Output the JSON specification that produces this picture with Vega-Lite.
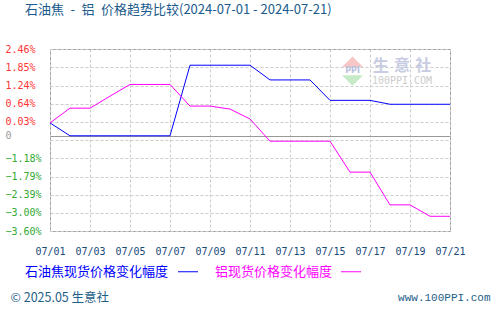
{
  "$schema": "https://vega.github.io/schema/vega-lite/v6.json",
  "width": 400,
  "height": 182,
  "autosize": {"type": "none"},
  "padding": {"left": 50, "top": 49, "right": 50, "bottom": 81},
  "background": "white",
  "title": {
    "text": "石油焦\u2002-\u2002铝\u2002价格趋势比较(2024-07-01 - 2024-07-21)",
    "anchor": "start",
    "frame": "group",
    "dx": -25,
    "offset": 21,
    "baseline": "middle",
    "font": "Noto Sans CJK SC",
    "fontSize": 13,
    "fontWeight": "normal",
    "color": "#1a5a8c"
  },
  "data": {
    "values": [
      {"date": "2024/07/01", "series": "石油焦现货价格变化幅度", "value": 0},
      {"date": "2024/07/02", "series": "石油焦现货价格变化幅度", "value": -0.43},
      {"date": "2024/07/03", "series": "石油焦现货价格变化幅度", "value": -0.43},
      {"date": "2024/07/04", "series": "石油焦现货价格变化幅度", "value": -0.43},
      {"date": "2024/07/05", "series": "石油焦现货价格变化幅度", "value": -0.43},
      {"date": "2024/07/06", "series": "石油焦现货价格变化幅度", "value": -0.43},
      {"date": "2024/07/07", "series": "石油焦现货价格变化幅度", "value": -0.43},
      {"date": "2024/07/08", "series": "石油焦现货价格变化幅度", "value": 1.92},
      {"date": "2024/07/09", "series": "石油焦现货价格变化幅度", "value": 1.92},
      {"date": "2024/07/10", "series": "石油焦现货价格变化幅度", "value": 1.92},
      {"date": "2024/07/11", "series": "石油焦现货价格变化幅度", "value": 1.92},
      {"date": "2024/07/12", "series": "石油焦现货价格变化幅度", "value": 1.43},
      {"date": "2024/07/13", "series": "石油焦现货价格变化幅度", "value": 1.43},
      {"date": "2024/07/14", "series": "石油焦现货价格变化幅度", "value": 1.43},
      {"date": "2024/07/15", "series": "石油焦现货价格变化幅度", "value": 0.75},
      {"date": "2024/07/16", "series": "石油焦现货价格变化幅度", "value": 0.75},
      {"date": "2024/07/17", "series": "石油焦现货价格变化幅度", "value": 0.75},
      {"date": "2024/07/18", "series": "石油焦现货价格变化幅度", "value": 0.62},
      {"date": "2024/07/19", "series": "石油焦现货价格变化幅度", "value": 0.62},
      {"date": "2024/07/20", "series": "石油焦现货价格变化幅度", "value": 0.62},
      {"date": "2024/07/21", "series": "石油焦现货价格变化幅度", "value": 0.62},
      {"date": "2024/07/01", "series": "铝现货价格变化幅度", "value": 0},
      {"date": "2024/07/02", "series": "铝现货价格变化幅度", "value": 0.49},
      {"date": "2024/07/03", "series": "铝现货价格变化幅度", "value": 0.49},
      {"date": "2024/07/04", "series": "铝现货价格变化幅度", "value": 0.89},
      {"date": "2024/07/05", "series": "铝现货价格变化幅度", "value": 1.28},
      {"date": "2024/07/06", "series": "铝现货价格变化幅度", "value": 1.28},
      {"date": "2024/07/07", "series": "铝现货价格变化幅度", "value": 1.28},
      {"date": "2024/07/08", "series": "铝现货价格变化幅度", "value": 0.56},
      {"date": "2024/07/09", "series": "铝现货价格变化幅度", "value": 0.56},
      {"date": "2024/07/10", "series": "铝现货价格变化幅度", "value": 0.46},
      {"date": "2024/07/11", "series": "铝现货价格变化幅度", "value": 0.13},
      {"date": "2024/07/12", "series": "铝现货价格变化幅度", "value": -0.61},
      {"date": "2024/07/13", "series": "铝现货价格变化幅度", "value": -0.61},
      {"date": "2024/07/14", "series": "铝现货价格变化幅度", "value": -0.61},
      {"date": "2024/07/15", "series": "铝现货价格变化幅度", "value": -0.61},
      {"date": "2024/07/16", "series": "铝现货价格变化幅度", "value": -1.64},
      {"date": "2024/07/17", "series": "铝现货价格变化幅度", "value": -1.64},
      {"date": "2024/07/18", "series": "铝现货价格变化幅度", "value": -2.73},
      {"date": "2024/07/19", "series": "铝现货价格变化幅度", "value": -2.73},
      {"date": "2024/07/20", "series": "铝现货价格变化幅度", "value": -3.11},
      {"date": "2024/07/21", "series": "铝现货价格变化幅度", "value": -3.11}
    ]
  },
  "layer": [
    {
      "mark": {"type": "line", "strokeWidth": 1, "clip": true},
      "encoding": {
        "x": {
          "field": "date",
          "type": "temporal",
          "scale": {"domain": [{"year": 2024, "month": 7, "date": 1}, {"year": 2024, "month": 7, "date": 21}]},
          "axis": {
            "values": [
              {"year": 2024, "month": 7, "date": 1},
              {"year": 2024, "month": 7, "date": 3},
              {"year": 2024, "month": 7, "date": 5},
              {"year": 2024, "month": 7, "date": 7},
              {"year": 2024, "month": 7, "date": 9},
              {"year": 2024, "month": 7, "date": 11},
              {"year": 2024, "month": 7, "date": 13},
              {"year": 2024, "month": 7, "date": 15},
              {"year": 2024, "month": 7, "date": 17},
              {"year": 2024, "month": 7, "date": 19},
              {"year": 2024, "month": 7, "date": 21}
            ],
            "tickCount": 100,
            "format": "%m/%d",
            "labelFont": "DejaVu Sans Mono",
            "labelFontSize": 10,
            "labelColor": "#1a4a7a",
            "labelPadding": 15,
            "labelFlush": false,
            "labelOverlap": false,
            "ticks": false,
            "tickSize": 0,
            "domain": false,
            "grid": true,
            "gridColor": "#cccccc",
            "gridDash": [3, 2],
            "title": "© 2025.05 生意社",
            "titleX": -40,
            "titleY": 66,
            "titleAlign": "left",
            "titleBaseline": "middle",
            "titleFont": "Noto Sans CJK SC",
            "titleFontSize": 12.5,
            "titleFontWeight": "normal",
            "titleColor": "#1e6088"
          }
        },
        "y": {
          "field": "value",
          "type": "quantitative",
          "scale": {"domain": [-3.6, 2.46], "nice": false, "zero": false},
          "axis": {
            "values": [2.46, 1.85, 1.24, 0.64, 0.03, -0.43, -0.57, -1.18, -1.79, -2.39, -3.0, -3.6],
            "tickCount": 100,
            "labelExpr": "datum.value == -0.43 ? '0' : (datum.value == -0.57 ? '' : format(datum.value, '.2f') + '%')",
            "labelAlign": "left",
            "labelPadding": 45,
            "labelBaseline": "middle",
            "labelFont": "DejaVu Sans Mono",
            "labelFontSize": 10,
            "labelOverlap": false,
            "labelColor": {
              "condition": [
                {"test": "datum.value == -0.43", "value": "#999999"},
                {"test": "datum.value > 0", "value": "#ff3333"}
              ],
              "value": "#33aa33"
            },
            "ticks": false,
            "tickSize": 0,
            "domain": false,
            "grid": true,
            "gridColor": {"condition": {"test": "datum.value == -0.43", "value": "#999999"}, "value": "#cccccc"},
            "gridDash": {"condition": {"test": "datum.value == -0.43", "value": []}, "value": [3, 2]},
            "title": "www.100PPI.com",
            "titleAngle": 0,
            "titleX": 440,
            "titleY": 248,
            "titleAlign": "right",
            "titleBaseline": "middle",
            "titleFont": "Liberation Mono",
            "titleFontSize": 11,
            "titleFontWeight": "normal",
            "titleColor": "#1e6088"
          }
        },
        "color": {
          "field": "series",
          "type": "nominal",
          "scale": {"domain": ["石油焦现货价格变化幅度", "铝现货价格变化幅度"], "range": ["#0000ff", "#ff00ff"]},
          "legend": {
            "orient": "none",
            "legendX": -25,
            "legendY": 212,
            "direction": "horizontal",
            "title": null,
            "padding": 0,
            "symbolType": "stroke",
            "symbolSize": 400,
            "symbolStrokeWidth": 1,
            "labelFont": "Noto Sans CJK SC",
            "labelFontSize": 13,
            "labelLimit": 400,
            "labelOffset": 0,
            "columnPadding": 15,
            "encode": {
              "symbols": {"update": {"x": {"signal": "datum.value === '石油焦现货价格变化幅度' ? 163 : 136"}}},
              "labels": {"update": {"x": {"value": 0}, "fill": {"signal": "datum.value === '石油焦现货价格变化幅度' ? '#0000ff' : '#ff00ff'"}}}
            }
          }
        }
      }
    },
    {
      "data": {"values": [{}]},
      "mark": {"type": "point", "shape": "M-1,0L0,-1L1,0Z", "filled": true, "size": 441, "color": "#f8c6c6", "opacity": 1},
      "encoding": {
        "x": {"datum": {"year": 2024, "month": 7, "date": 16, "hours": 3}, "type": "temporal"},
        "y": {"datum": 1.86, "type": "quantitative"}
      }
    },
    {
      "data": {"values": [{}]},
      "mark": {"type": "point", "shape": "M-1,0L0,1L1,0Z", "filled": true, "size": 441, "color": "#c6eac6", "opacity": 1},
      "encoding": {
        "x": {"datum": {"year": 2024, "month": 7, "date": 16, "hours": 3}, "type": "temporal"},
        "y": {"datum": 1.59, "type": "quantitative"}
      }
    },
    {
      "data": {"values": [{}]},
      "mark": {"type": "text", "text": "PPI", "font": "DejaVu Sans", "fontSize": 8, "fontWeight": "bold", "color": "#b8c0dc"},
      "encoding": {
        "x": {"datum": {"year": 2024, "month": 7, "date": 16, "hours": 3}, "type": "temporal"},
        "y": {"datum": 1.73, "type": "quantitative"}
      }
    },
    {
      "data": {"values": [{}]},
      "mark": {"type": "text", "text": "生\u2004意\u2004社", "font": "Noto Sans CJK SC", "fontSize": 16, "fontWeight": "bold", "color": "#c8cce2"},
      "encoding": {
        "x": {"datum": {"year": 2024, "month": 7, "date": 18, "hours": 14, "minutes": 24}, "type": "temporal"},
        "y": {"datum": 1.91, "type": "quantitative"}
      }
    },
    {
      "data": {"values": [{}]},
      "mark": {"type": "text", "text": "100PPI.COM", "font": "DejaVu Sans Mono", "fontSize": 10, "color": "#cccccc"},
      "encoding": {
        "x": {"datum": {"year": 2024, "month": 7, "date": 18, "hours": 14, "minutes": 24}, "type": "temporal"},
        "y": {"datum": 1.41, "type": "quantitative"}
      }
    }
  ],
  "config": {
    "view": {"stroke": "#999999", "strokeWidth": 1},
    "axis": {"labelOverlap": false}
  }
}
